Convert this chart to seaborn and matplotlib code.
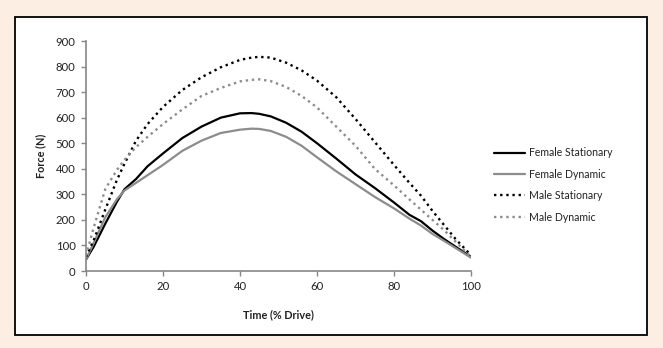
import matplotlib
matplotlib.use("Agg")
import matplotlib.pyplot as plt
from matplotlib.patches import Rectangle
import seaborn as sns
import pandas as pd

time_pct = [0, 2, 5, 8, 10, 13, 16, 20, 25, 30, 35, 40, 43, 45, 48, 52, 56, 60,
            65, 70, 75, 80, 84, 87, 90, 93, 96, 100]
female_stationary = [45, 95, 185, 270, 320, 360, 410, 460, 520, 565, 600, 617, 618, 615,
                     605, 580, 545, 500, 440, 378, 325, 268, 220, 195, 158, 125, 95, 55]
female_dynamic = [45, 110, 210, 280, 315, 345, 375, 415, 470, 510, 540, 553, 557, 556,
                  548, 525, 490, 445, 390, 340, 290, 245, 205, 178, 145, 118, 90, 52]
male_stationary = [55, 120, 240, 355, 420, 510, 575, 642, 708, 758, 797, 826, 835, 838,
                   835, 815, 785, 745, 680, 595, 505, 415, 345, 295, 235, 180, 125, 62]
male_dynamic = [60, 170, 320, 395, 435, 485, 525, 575, 632, 685, 716, 742, 748, 750,
                743, 720, 685, 640, 565, 490, 400, 335, 280, 240, 200, 160, 115, 55]

series_names = ["Female Stationary", "Female Dynamic", "Male Stationary", "Male Dynamic"]
x_ticks = [0, 20, 40, 60, 80, 100]
y_ticks = [0, 100, 200, 300, 400, 500, 600, 700, 800, 900]

sns.set_style("white")
plt.rcParams['font.family'] = ['Lato', 'DejaVu Sans']

bg = '#fdeee4'
fig = plt.figure(figsize=(6.63, 3.48), dpi=100, facecolor=bg)
# white inner panel with black border
panel = Rectangle((15/663, 1-335/348), (647-15)/663, (335-17)/348,
                  transform=fig.transFigure, facecolor='white', edgecolor='black',
                  linewidth=1.3, zorder=-10)
fig.add_artist(panel)

ax = fig.add_axes([86/663, 1-271/348, (471-86)/663, (271-41)/348])
ax.set_zorder(5)
ax.set_facecolor('none')

styles = [
    dict(color='black', linestyle='-', linewidth=1.6),
    dict(color='#8c8c8c', linestyle='-', linewidth=1.6),
    dict(color='black', linestyle=(0, (1, 1.6)), linewidth=1.7),
    dict(color='#8c8c8c', linestyle=(0, (1, 1.6)), linewidth=1.7),
]
data = [female_stationary, female_dynamic, male_stationary, male_dynamic]
for name, vals, st in zip(series_names, data, styles):
    df = pd.DataFrame({"Time": time_pct, "Force": vals})
    sns.lineplot(data=df, x="Time", y="Force", ax=ax, label=name, **st)

ax.set_xlim(0, 100)
ax.set_ylim(0, 900)
ax.set_xticks(x_ticks)
ax.set_yticks(y_ticks)
ax.tick_params(axis='both', direction='out', length=3.5, width=1, color='#868686',
               labelsize=8.2, labelcolor='#222222', pad=4, bottom=True, left=True)
for s in ['top', 'right']:
    ax.spines[s].set_visible(False)
for s in ['left', 'bottom']:
    ax.spines[s].set_color('#868686')
    ax.spines[s].set_linewidth(1.2)

ax.set_xlabel("Time (% Drive)", fontsize=7.8, fontweight='bold', color='#222222', labelpad=12)
ax.set_ylabel("Force (N)", fontsize=7.8, fontweight='bold', color='#222222', labelpad=7)

leg = ax.legend(loc='upper left', bbox_to_anchor=(485/663, 1-138/348),
                bbox_transform=fig.transFigure, frameon=False, fontsize=7.6,
                handlelength=2.9, handletextpad=0.4, labelspacing=0.98)
for t in leg.get_texts():
    t.set_color('#222222')

fig.savefig("out.png", dpi=100, facecolor=bg)
